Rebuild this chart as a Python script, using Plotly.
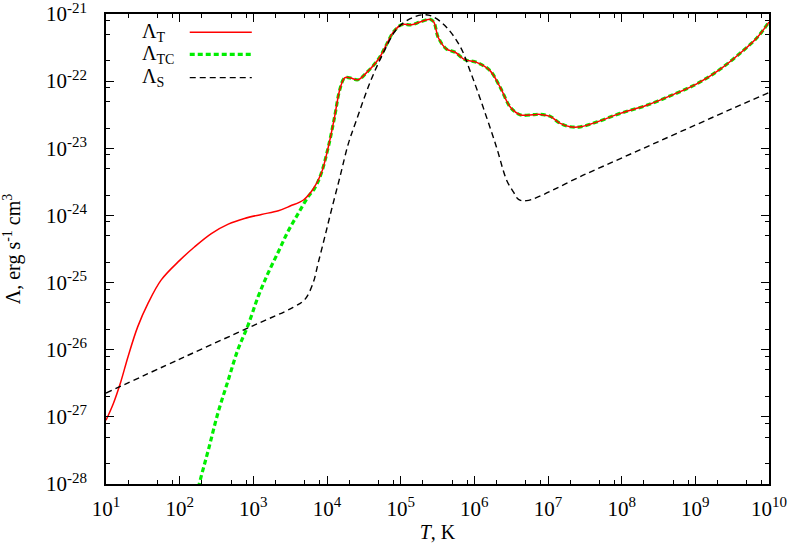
import plotly.graph_objects as go

# log10(T) grids and log10(Lambda) values
T_lam_T = [1.00, 1.10, 1.20, 1.30, 1.43, 1.57, 1.75, 2.00, 2.20, 2.43, 2.66, 2.88, 3.11, 3.34, 3.50,
           3.68, 3.81, 3.92, 4.02, 4.10, 4.175, 4.24, 4.31, 4.42, 4.54, 4.70, 4.81, 4.90, 5.01, 5.15,
           5.26, 5.40, 5.45, 5.51, 5.62, 5.74, 5.87, 6.03, 6.21, 6.35, 6.49, 6.62, 6.80, 6.89, 7.03,
           7.16, 7.30, 7.44, 7.66, 7.98, 8.34, 8.70, 9.02, 9.34, 9.655, 9.84, 10.0]
lam_T = [-27.05, -26.80, -26.48, -26.10, -25.66, -25.31, -24.96, -24.67, -24.47, -24.27, -24.13, -24.045,
         -23.985, -23.93, -23.86, -23.77, -23.61, -23.38, -22.97, -22.55, -22.12, -21.95, -21.95, -21.98,
         -21.87, -21.67, -21.45, -21.27, -21.16, -21.16, -21.12, -21.08, -21.12, -21.35, -21.52, -21.57,
         -21.68, -21.72, -21.84, -22.09, -22.39, -22.50, -22.50, -22.495, -22.525, -22.625, -22.68, -22.68,
         -22.61, -22.48, -22.36, -22.20, -22.04, -21.82, -21.54, -21.35, -21.12]

T_lam_TC_low = [2.10, 2.27, 2.39, 2.52, 2.66, 2.79, 2.93, 3.065, 3.20, 3.34, 3.47, 3.61, 3.745, 3.83]
lam_TC_low = [-28.75, -27.98, -27.49, -26.94, -26.45, -26.00, -25.63, -25.21, -24.86, -24.54, -24.24,
              -23.97, -23.72, -23.60]

T_lam_S = [1.00, 2.00, 3.00, 3.54, 3.70, 3.81, 3.88, 3.97, 4.06, 4.175, 4.29, 4.40, 4.58, 4.76, 4.95,
           5.13, 5.31, 5.44, 5.625, 5.81, 5.94, 6.12, 6.30, 6.44, 6.53, 6.60, 6.71, 7.50, 8.50, 9.50, 10.0]
lam_S = [-26.645, -26.14, -25.64, -25.37, -25.25, -25.01, -24.71, -24.32, -23.92, -23.43, -22.93, -22.58,
         -22.03, -21.59, -21.22, -21.07, -21.01, -21.04, -21.20, -21.49, -21.84, -22.39, -22.98, -23.48,
         -23.65, -23.76, -23.78, -23.39, -22.90, -22.41, -22.17]

x_ticks = [1, 2, 3, 4, 5, 6, 7, 8, 9, 10]
y_ticks = [-28, -27, -26, -25, -24, -23, -22, -21]
legend_names = ["Λ<sub>T</sub>", "Λ<sub>TC</sub>", "Λ<sub>S</sub>"]

# green curve joins the red one above ~1e4 K
join = 17  # index in T_lam_T where TC == T
T_lam_TC = T_lam_TC_low + T_lam_T[join:]
lam_TC = lam_TC_low + lam_T[join:]

def p(v):
    return [10 ** a for a in v]

def lab(k):
    return f"10<sup><span style='font-size:15px'>{k}</span></sup>"

FONT = "Liberation Serif"
fig = go.Figure()
fig.add_trace(go.Scatter(x=p(T_lam_TC), y=p(lam_TC), mode="lines", line_shape="spline",
                         line=dict(color="#00ee00", width=3.2, dash="5px,3px"), showlegend=False))
fig.add_trace(go.Scatter(x=p(T_lam_T), y=p(lam_T), mode="lines", line_shape="spline",
                         line=dict(color="#ff0000", width=1.5), showlegend=False))
fig.add_trace(go.Scatter(x=p(T_lam_S), y=p(lam_S), mode="lines", line_shape="spline",
                         line=dict(color="#000000", width=1.4, dash="6px,4px"), showlegend=False))

minor_x = [m * 10 ** k for k in range(1, 10) for m in (2, 5, 8)]
minor_y = [m * 10.0 ** k for k in range(-28, -21) for m in (2, 5, 8)]

fig.update_xaxes(type="log", range=[1, 10], automargin=False, ticklabeloverflow="allow",
                 tickvals=p(x_ticks), ticktext=[lab(k) for k in x_ticks],
                 ticks="inside", ticklen=8, tickwidth=1.3, tickcolor="black", ticklabelstandoff=5,
                 showline=True, linecolor="black", linewidth=1.5, mirror="allticks",
                 showgrid=False, zeroline=False,
                 minor=dict(tickvals=minor_x, ticks="inside", ticklen=4, tickwidth=1.2, tickcolor="black"),
                 tickfont=dict(family=FONT, size=21, color="black"),
                 title=dict(text="<i>T</i>, K", font=dict(family=FONT, size=20, color="black"), standoff=5))
fig.update_yaxes(type="log", range=[-28, -21], automargin=False, ticklabeloverflow="allow",
                 tickvals=p(y_ticks), ticktext=[lab(k) for k in y_ticks],
                 ticks="inside", ticklen=8, tickwidth=1.3, tickcolor="black", ticklabelstandoff=13,
                 showline=True, linecolor="black", linewidth=1.5, mirror="allticks",
                 showgrid=False, zeroline=False,
                 minor=dict(tickvals=minor_y, ticks="inside", ticklen=4, tickwidth=1.2, tickcolor="black"),
                 tickfont=dict(family=FONT, size=21, color="black"),
                 title=dict(text="Λ, erg s<sup>-1</sup> cm<sup>3</sup>", font=dict(family=FONT, size=20, color="black"), standoff=20))

# gnuplot-style key: label on the left, sample line on the right
rows_y = [0.961, 0.914, 0.8646]
styles = [dict(color="#ff0000", width=1.5),
          dict(color="#00ee00", width=3.2, dash="5px,3px"),
          dict(color="#000000", width=1.4, dash="6px,4px")]
for name, yy, st in zip(legend_names, rows_y, styles):
    fig.add_annotation(xref="x domain", yref="y domain", x=0.052, y=yy, text=name, showarrow=False,
                       xanchor="left", yanchor="middle", font=dict(family=FONT, size=20, color="black"))
    fig.add_shape(type="line", xref="x domain", yref="y domain", x0=0.1263, x1=0.2199, y0=yy, y1=yy, line=st)

fig.update_layout(width=789, height=547, margin=dict(l=106, r=20, t=14, b=63, autoexpand=False),
                  paper_bgcolor="white", plot_bgcolor="white", showlegend=False)
fig.write_html("out.html", config={"displayModeBar": False},
               post_script="document.body.style.margin='0';document.body.style.overflow='hidden';")
